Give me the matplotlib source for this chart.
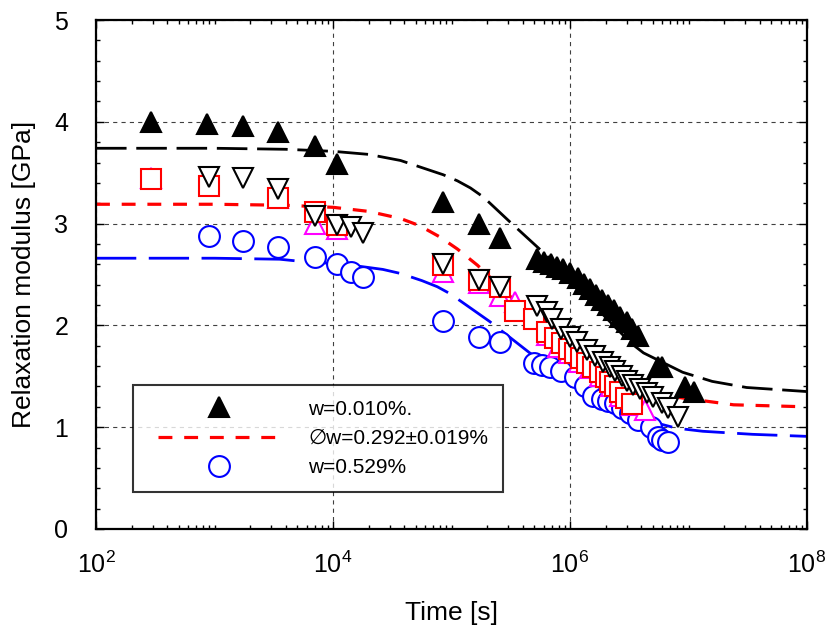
import numpy as np
import matplotlib
matplotlib.use('Agg')
import matplotlib.pyplot as plt
from matplotlib.lines import Line2D
from matplotlib.legend_handler import HandlerLine2D
from matplotlib.ticker import FixedLocator, NullFormatter

plt.rcParams['font.family'] = ['Liberation Sans', 'DejaVu Sans']
plt.rcParams['lines.scale_dashes'] = False

# measured relaxation modulus [GPa] vs log10(time [s])
logt_w010 = [2.46, 2.94, 3.24, 3.54, 3.85, 4.03, 4.93, 5.23, 5.41,
             5.72, 5.78, 5.84, 5.89, 5.94, 6.00, 6.07, 6.12, 6.17, 6.22,
             6.27, 6.32, 6.37, 6.42, 6.48, 6.52, 6.57, 6.74, 6.78, 6.97, 7.05]
E_w010 = [4.00, 3.98, 3.96, 3.90, 3.76, 3.59, 3.21, 3.00, 2.86,
          2.65, 2.62, 2.60, 2.57, 2.55, 2.51, 2.47, 2.41, 2.36, 2.30,
          2.25, 2.20, 2.15, 2.08, 2.03, 1.96, 1.90, 1.59, 1.59, 1.39, 1.35]

logt_dn = [2.95, 3.24, 3.54, 3.85, 4.03, 4.15, 4.25, 4.93, 5.23, 5.41,
           5.72, 5.81, 5.85, 5.92, 6.00, 6.06, 6.14, 6.21, 6.28, 6.34,
           6.38, 6.44, 6.48, 6.53, 6.59, 6.65, 6.70, 6.78, 6.83, 6.91]
E_dn = [3.46, 3.45, 3.34, 3.07, 2.99, 2.97, 2.91, 2.60, 2.45, 2.38,
        2.19, 2.13, 2.06, 1.96, 1.89, 1.84, 1.76, 1.70, 1.64, 1.59,
        1.55, 1.50, 1.45, 1.41, 1.38, 1.34, 1.30, 1.24, 1.19, 1.10]

logt_sq = [2.46, 2.95, 3.54, 3.85, 4.03, 4.93, 5.23, 5.41, 5.54, 5.70,
           5.81, 5.87, 5.93, 5.99, 6.04, 6.09, 6.14, 6.19, 6.25, 6.30,
           6.34, 6.38, 6.42, 6.47, 6.52]
E_sq = [3.44, 3.37, 3.25, 3.11, 2.99, 2.59, 2.45, 2.38, 2.14, 2.06,
        1.94, 1.88, 1.83, 1.77, 1.73, 1.68, 1.63, 1.59, 1.54, 1.49,
        1.44, 1.40, 1.35, 1.29, 1.23]

logt_up = [2.46, 3.54, 3.85, 4.03, 4.93, 5.23, 5.41, 5.54, 5.81, 5.90,
           5.99, 6.08, 6.17, 6.25, 6.35, 6.42, 6.52, 6.63]
E_up = [3.45, 3.25, 3.00, 2.95, 2.52, 2.42, 2.29, 2.23, 1.91, 1.79,
        1.73, 1.64, 1.58, 1.50, 1.40, 1.31, 1.22, 1.17]

logt_w529 = [2.95, 3.24, 3.54, 3.85, 4.03, 4.15, 4.25, 4.93, 5.23, 5.41,
             5.70, 5.76, 5.83, 5.92, 6.04, 6.13, 6.19, 6.27, 6.32, 6.38,
             6.44, 6.51, 6.57, 6.68, 6.74, 6.78, 6.83]
E_w529 = [2.88, 2.83, 2.77, 2.67, 2.60, 2.52, 2.48, 2.04, 1.89, 1.84,
          1.63, 1.61, 1.59, 1.55, 1.49, 1.40, 1.31, 1.28, 1.26, 1.24,
          1.19, 1.14, 1.07, 1.00, 0.90, 0.87, 0.85]

# fitted master curves
logt_fit_k = [2.0, 3.0, 3.6, 4.0, 4.3, 4.57, 4.93, 5.05, 5.16, 5.27, 5.49,
              5.79, 6.0, 6.25, 6.51, 6.62, 6.95, 7.2, 7.49, 8.0]
E_fit_k = [3.74, 3.74, 3.73, 3.71, 3.68, 3.62, 3.48, 3.42, 3.35, 3.26, 3.02,
           2.70, 2.45, 2.14, 1.83, 1.73, 1.54, 1.45, 1.39, 1.35]

logt_fit_r = [2.0, 3.0, 3.6, 4.0, 4.3, 4.57, 4.73, 4.90, 5.05, 5.22, 5.5,
              5.8, 6.1, 6.4, 6.7, 6.93, 7.38, 8.0]
E_fit_r = [3.19, 3.19, 3.18, 3.16, 3.12, 3.05, 2.98, 2.87, 2.75, 2.59, 2.28,
           1.95, 1.66, 1.46, 1.34, 1.29, 1.22, 1.20]

logt_fit_b = [2.0, 3.0, 3.55, 3.72, 4.1, 4.42, 4.57, 4.75, 4.88, 4.99,
              5.32, 5.66, 6.0, 6.3, 6.6, 6.9, 7.12, 7.54, 8.0]
E_fit_b = [2.66, 2.66, 2.65, 2.63, 2.60, 2.55, 2.51, 2.44, 2.38, 2.31,
           2.04, 1.73, 1.45, 1.22, 1.08, 0.99, 0.96, 0.93, 0.91]


def t(logt):
    return 10 ** np.asarray(logt)


fig = plt.figure(figsize=(8.3, 6.3), dpi=100)
ax = fig.add_axes([96 / 830, 1 - 529 / 630, 711 / 830, 509 / 630])

ax.plot(t(logt_fit_k), E_fit_k, color='black', lw=2.0, dashes=(22, 7), zorder=2)
ln_r, = ax.plot(t(logt_fit_r), E_fit_r, color='red', lw=2.3, dashes=(10, 8.5), zorder=2)
ax.plot(t(logt_fit_b), E_fit_b, color='blue', lw=2.0, dashes=(29, 9), zorder=2)

mk = dict(linestyle='none', markersize=15, markeredgewidth=1.5)
ln_b, = ax.plot(t(logt_w529), E_w529, marker='o', mfc='white', mec='blue', zorder=3, **mk)
ax.plot(t(logt_up), E_up, marker='^', mfc='white', mec='magenta', zorder=4, **mk)
ax.plot(t(logt_sq), E_sq, marker='s', mfc='white', mec='red', zorder=5,
        linestyle='none', markersize=14, markeredgewidth=1.5)
ax.plot(t(logt_dn), E_dn, marker='v', mfc='white', mec='black', zorder=6, **mk)
ln_k, = ax.plot(t(logt_w010), E_w010, marker='^', mfc='black', mec='black', zorder=7, **mk)

ax.set_xscale('log')
ax.set_xlim(1e2, 1e8)
ax.set_ylim(0, 5)
ax.xaxis.set_major_locator(FixedLocator([1e2, 1e4, 1e6, 1e8]))
minor_x = [k * 10.0 ** d for d in range(2, 8) for k in range(1, 10)
           if not (k == 1 and d % 2 == 0)]
ax.xaxis.set_minor_locator(FixedLocator(minor_x))
ax.xaxis.set_minor_formatter(NullFormatter())
ax.set_yticks([0, 1, 2, 3, 4, 5])
ax.yaxis.set_minor_locator(FixedLocator(np.arange(0, 5.01, 0.2)))

ax.tick_params(which='both', direction='in', top=True, right=True, labelsize=18)
ax.tick_params(which='major', length=6, width=1.0)
ax.tick_params(which='minor', length=3, width=1.0)
ax.tick_params(axis='y', pad=20)
ax.tick_params(axis='x', pad=16)
for s in ax.spines.values():
    s.set_linewidth(1.6)

ax.grid(True, which='major', linestyle=(0, (3, 3)), color='0.25', linewidth=0.8)
ax.set_axisbelow(True)

ax.set_xlabel('Time [s]', fontsize=19)
ax.set_ylabel('Relaxation modulus [GPa]', fontsize=19)
ax.xaxis.set_label_coords(0.5, -0.1415)
ax.yaxis.set_label_coords(-0.085, 0.5)

leg = ax.legend([ln_k, ln_r, ln_b],
                ['w=0.010%.', '\u2205w=0.292\u00b10.019%', 'w=0.529%'],
                loc='upper left', bbox_to_anchor=(0.052, 0.283), borderaxespad=0,
                fontsize=15, numpoints=1, handlelength=6.4, handletextpad=1.3,
                borderpad=0.7, labelspacing=0.5, fancybox=False,
                handler_map={Line2D: HandlerLine2D(xpad=0.5)})
leg.get_frame().set_edgecolor('black')
leg.get_frame().set_linewidth(1.5)
leg.set_zorder(10)

fig.savefig('out.png', dpi=100)
